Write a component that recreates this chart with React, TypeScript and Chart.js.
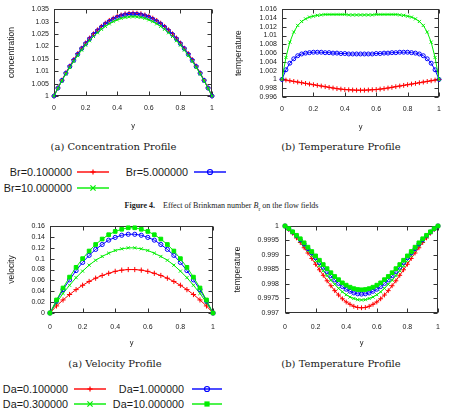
import React, { useEffect, useRef } from 'react';
import { Chart, registerables } from 'chart.js';
Chart.register(...registerables);

// ---------- data ----------
const xTickValues = [0, 0.2, 0.4, 0.6, 0.8, 1];
const xTickLabels = ['0', '0.2', '0.4', '0.6', '0.8', '1'];

const xs40 = [0, 0.025, 0.05, 0.075, 0.1, 0.125, 0.15, 0.175, 0.2, 0.225, 0.25, 0.275, 0.3, 0.325, 0.35, 0.375, 0.4, 0.425, 0.45, 0.475, 0.5,
  0.525, 0.55, 0.575, 0.6, 0.625, 0.65, 0.675, 0.7, 0.725, 0.75, 0.775, 0.8, 0.825, 0.85, 0.875, 0.9, 0.925, 0.95, 0.975, 1];
const xs25 = [0, 0.04, 0.08, 0.12, 0.16, 0.2, 0.24, 0.28, 0.32, 0.36, 0.4, 0.44, 0.48, 0.52, 0.56, 0.6, 0.64, 0.68, 0.72, 0.76, 0.8, 0.84, 0.88, 0.92, 0.96, 1];

// (a) concentration
const concTickValues = [1, 1.005, 1.01, 1.015, 1.02, 1.025, 1.03, 1.035];
const concTickLabels = ['1', '1.005', '1.01', '1.015', '1.02', '1.025', '1.03', '1.035'];
const concBr01 = [1.0000, 1.0033, 1.0064, 1.0093, 1.0121, 1.0147, 1.0171, 1.0193, 1.0214, 1.0234, 1.0251, 1.0267, 1.0281, 1.0294, 1.0305, 1.0314, 1.0322, 1.0327, 1.0332, 1.0334, 1.0335,
  1.0334, 1.0332, 1.0327, 1.0322, 1.0314, 1.0305, 1.0294, 1.0281, 1.0267, 1.0251, 1.0234, 1.0214, 1.0193, 1.0171, 1.0147, 1.0121, 1.0093, 1.0064, 1.0033, 1.0000];
const concBr5 = [1.0000, 1.0032, 1.0063, 1.0092, 1.0119, 1.0144, 1.0168, 1.0191, 1.0211, 1.0230, 1.0248, 1.0263, 1.0277, 1.0290, 1.0300, 1.0309, 1.0317, 1.0323, 1.0327, 1.0329, 1.0330,
  1.0329, 1.0327, 1.0323, 1.0317, 1.0309, 1.0300, 1.0290, 1.0277, 1.0263, 1.0248, 1.0230, 1.0211, 1.0191, 1.0168, 1.0144, 1.0119, 1.0092, 1.0063, 1.0032, 1.0000];
const concBr10 = [1.0000, 1.0031, 1.0061, 1.0089, 1.0115, 1.0140, 1.0163, 1.0185, 1.0205, 1.0223, 1.0240, 1.0255, 1.0269, 1.0281, 1.0291, 1.0300, 1.0307, 1.0313, 1.0317, 1.0319, 1.0320,
  1.0319, 1.0317, 1.0313, 1.0307, 1.0300, 1.0291, 1.0281, 1.0269, 1.0255, 1.0240, 1.0223, 1.0205, 1.0185, 1.0163, 1.0140, 1.0115, 1.0089, 1.0061, 1.0031, 1.0000];

// (b) temperature, Brinkman
const tempBTickValues = [0.996, 0.998, 1, 1.002, 1.004, 1.006, 1.008, 1.01, 1.012, 1.014, 1.016];
const tempBTickLabels = ['0.996', '0.998', '1', '1.002', '1.004', '1.006', '1.008', '1.01', '1.012', '1.014', '1.016'];
const tempBr01 = [1.0000, 0.99985, 0.9997, 0.99955, 0.9994, 0.99925, 0.9991, 0.99895, 0.9988, 0.99865, 0.9985, 0.99835, 0.9982, 0.99805, 0.9979, 0.9978, 0.9977, 0.99765, 0.9976, 0.99755, 0.99755,
  0.99755, 0.9976, 0.99765, 0.9977, 0.9978, 0.9979, 0.99805, 0.9982, 0.99835, 0.9985, 0.99865, 0.9988, 0.99895, 0.9991, 0.99925, 0.9994, 0.99955, 0.9997, 0.99985, 1.0000];
const tempBr5 = [1.0000, 1.0022, 1.0037, 1.0047, 1.0054, 1.0058, 1.0060, 1.0061, 1.0062, 1.0062, 1.0062, 1.0061, 1.0061, 1.0060, 1.0060, 1.0059, 1.0059, 1.0058, 1.0058, 1.0058, 1.0058,
  1.0058, 1.0058, 1.0058, 1.0059, 1.0059, 1.0060, 1.0060, 1.0061, 1.0061, 1.0062, 1.0062, 1.0062, 1.0061, 1.0060, 1.0058, 1.0054, 1.0047, 1.0037, 1.0022, 1.0000];
const tempBr10 = [1.0000, 1.0050, 1.0085, 1.0108, 1.0123, 1.0132, 1.0138, 1.0142, 1.0144, 1.0146, 1.0147, 1.0148, 1.0148, 1.0148, 1.0148, 1.0148, 1.0148, 1.0147, 1.0147, 1.0147, 1.0147,
  1.0147, 1.0147, 1.0147, 1.0148, 1.0148, 1.0148, 1.0148, 1.0148, 1.0148, 1.0147, 1.0146, 1.0144, 1.0142, 1.0138, 1.0132, 1.0123, 1.0108, 1.0085, 1.0050, 1.0000];

// (a) velocity, Darcy
const velTickValues = [0, 0.02, 0.04, 0.06, 0.08, 0.1, 0.12, 0.14, 0.16];
const velTickLabels = ['0', '0.02', '0.04', '0.06', '0.08', '0.1', '0.12', '0.14', '0.16'];
const velDa01 = [0, 0.013, 0.024, 0.034, 0.043, 0.051, 0.058, 0.064, 0.069, 0.073, 0.0766, 0.0788, 0.0799, 0.0799, 0.0788, 0.0766, 0.073, 0.069, 0.064, 0.058, 0.051, 0.043, 0.034, 0.024, 0.013, 0];
const velDa03 = [0, 0.019, 0.036, 0.051, 0.065, 0.077, 0.088, 0.097, 0.104, 0.110, 0.115, 0.118, 0.1198, 0.1198, 0.118, 0.115, 0.110, 0.104, 0.097, 0.088, 0.077, 0.065, 0.051, 0.036, 0.019, 0];
const velDa1 = [0, 0.022, 0.043, 0.061, 0.078, 0.093, 0.106, 0.117, 0.126, 0.134, 0.139, 0.143, 0.1448, 0.1448, 0.143, 0.139, 0.134, 0.126, 0.117, 0.106, 0.093, 0.078, 0.061, 0.043, 0.022, 0];
const velDa10 = [0, 0.024, 0.046, 0.066, 0.084, 0.100, 0.114, 0.126, 0.136, 0.144, 0.150, 0.154, 0.1567, 0.1567, 0.154, 0.150, 0.144, 0.136, 0.126, 0.114, 0.100, 0.084, 0.066, 0.046, 0.024, 0];

// (b) temperature, Darcy
const tempDTickValues = [0.997, 0.9975, 0.998, 0.9985, 0.999, 0.9995, 1];
const tempDTickLabels = ['0.997', '0.9975', '0.998', '0.9985', '0.999', '0.9995', '1'];
const tempDa01 = [1, 0.99988, 0.99975, 0.99959, 0.99943, 0.99925, 0.99907, 0.99888, 0.99868, 0.99849, 0.99830, 0.99811, 0.99794, 0.99777, 0.99762, 0.99749, 0.99738, 0.99730, 0.99723, 0.99719, 0.99718,
  0.99719, 0.99723, 0.99730, 0.99738, 0.99749, 0.99762, 0.99777, 0.99794, 0.99811, 0.99830, 0.99849, 0.99868, 0.99888, 0.99907, 0.99925, 0.99943, 0.99959, 0.99975, 0.99988, 1];
const tempDa03 = [1, 0.99989, 0.99977, 0.99963, 0.99948, 0.99933, 0.99916, 0.99899, 0.99881, 0.99863, 0.99846, 0.99829, 0.99813, 0.99799, 0.99785, 0.99773, 0.99763, 0.99755, 0.99750, 0.99746, 0.99745,
  0.99746, 0.99750, 0.99755, 0.99763, 0.99773, 0.99785, 0.99799, 0.99813, 0.99829, 0.99846, 0.99863, 0.99881, 0.99899, 0.99916, 0.99933, 0.99948, 0.99963, 0.99977, 0.99989, 1];
const tempDa1 = [1, 0.99990, 0.99979, 0.99966, 0.99952, 0.99938, 0.99922, 0.99907, 0.99890, 0.99874, 0.99858, 0.99843, 0.99828, 0.99814, 0.99802, 0.99791, 0.99782, 0.99775, 0.99769, 0.99766, 0.99765,
  0.99766, 0.99769, 0.99775, 0.99782, 0.99791, 0.99802, 0.99814, 0.99828, 0.99843, 0.99858, 0.99874, 0.99890, 0.99907, 0.99922, 0.99938, 0.99952, 0.99966, 0.99979, 0.99990, 1];
const tempDa10 = [1, 0.99991, 0.99980, 0.99968, 0.99956, 0.99942, 0.99927, 0.99912, 0.99897, 0.99882, 0.99867, 0.99853, 0.99839, 0.99826, 0.99815, 0.99804, 0.99796, 0.99789, 0.99784, 0.99781, 0.99780,
  0.99781, 0.99784, 0.99789, 0.99796, 0.99804, 0.99815, 0.99826, 0.99839, 0.99853, 0.99867, 0.99882, 0.99897, 0.99912, 0.99927, 0.99942, 0.99956, 0.99968, 0.99980, 0.99991, 1];

// ---------- styling ----------
const RED = '#ff0000';
const GREEN = '#00ee00';
const BLUE = '#0000ff';
const SANS = '"Liberation Sans", Arial, sans-serif';
const SERIF_CM = '"DejaVu Serif", serif';
const SERIF_T = '"Liberation Serif", "Times New Roman", serif';
const TXT = '#1a1a1a';

type Series = { values: number[]; color: string; style: string; r: number; filled?: boolean };
type PanelProps = {
  left: number; top: number; width: number; height: number;
  yw: number; pt: number; pr: number; xh: number;
  xs: number[];
  yMin: number; yMax: number; yTicks: number[]; yLabels: string[];
  yTitle: string; yTitlePad: number; xTitlePad: number; xTickPad: number; yTickPad: number;
  series: Series[];
};

const frameTicks = {
  id: 'frameTicks',
  beforeDatasetsDraw(chart: any) {
    const { ctx, chartArea: a, scales } = chart;
    const L = 4;
    const l = Math.round(a.left) + 0.5, r = Math.round(a.right) - 0.5;
    const t = Math.round(a.top) + 0.5, b = Math.round(a.bottom) - 0.5;
    ctx.save();
    ctx.strokeStyle = '#333';
    ctx.lineWidth = 1;
    ctx.beginPath();
    scales.x.ticks.forEach((tk: any) => {
      const px = Math.round(scales.x.getPixelForValue(tk.value)) + 0.5;
      ctx.moveTo(px, b); ctx.lineTo(px, b - L);
      ctx.moveTo(px, t); ctx.lineTo(px, t + L);
    });
    scales.y.ticks.forEach((tk: any) => {
      const py = Math.round(scales.y.getPixelForValue(tk.value)) + 0.5;
      ctx.moveTo(l, py); ctx.lineTo(l + L, py);
      ctx.moveTo(r, py); ctx.lineTo(r - L, py);
    });
    ctx.stroke();
    ctx.strokeRect(l, t, r - l, b - t);
    ctx.restore();
  },
};

function Panel(p: PanelProps) {
  const ref = useRef<HTMLCanvasElement | null>(null);
  useEffect(() => {
    if (!ref.current) return;
    const findLabel = (vals: number[], labels: string[], v: number) => {
      const i = vals.findIndex((x) => Math.abs(x - v) < 1e-9);
      return i >= 0 ? labels[i] : '';
    };
    const chart = new Chart(ref.current, {
      type: 'line',
      data: {
        datasets: p.series.map((s, i) => ({
          data: p.xs.map((x, j) => ({ x, y: s.values[j] })),
          borderColor: s.color,
          backgroundColor: s.filled ? s.color : 'rgba(0,0,0,0)',
          pointStyle: s.style as any,
          pointRadius: s.r,
          pointBorderWidth: 1,
          pointBorderColor: s.color,
          pointBackgroundColor: s.filled ? s.color : 'rgba(0,0,0,0)',
          borderWidth: 1,
          fill: false,
          tension: 0,
          clip: false as any,
          order: -i,
        })),
      },
      options: {
        animation: false,
        responsive: false,
        events: [],
        layout: { autoPadding: false, padding: { left: 0, top: p.pt, right: p.pr, bottom: 0 } },
        plugins: { legend: { display: false }, tooltip: { enabled: false } },
        scales: {
          x: {
            type: 'linear', min: 0, max: 1,
            afterBuildTicks: (s: any) => { s.ticks = xTickValues.map((v) => ({ value: v })); },
            afterFit: (s: any) => { s.height = p.xh; },
            ticks: {
              callback: (v: any) => findLabel(xTickValues, xTickLabels, Number(v)),
              padding: p.xTickPad, maxRotation: 0, autoSkip: false,
              font: { family: SANS, size: 7 }, color: TXT,
            },
            grid: { display: false, drawTicks: false },
            border: { display: false },
            title: { display: true, text: 'y', font: { family: SANS, size: 7.5 }, color: TXT, padding: { top: 0, bottom: p.xTitlePad } },
          },
          y: {
            type: 'linear', min: p.yMin, max: p.yMax,
            afterBuildTicks: (s: any) => { s.ticks = p.yTicks.map((v) => ({ value: v })); },
            afterFit: (s: any) => { s.width = p.yw; },
            ticks: {
              callback: (v: any) => findLabel(p.yTicks, p.yLabels, Number(v)),
              padding: p.yTickPad, autoSkip: false,
              font: { family: SANS, size: 7 }, color: TXT,
            },
            grid: { display: false, drawTicks: false },
            border: { display: false },
            title: { display: true, text: p.yTitle, font: { family: SANS, size: 8.5 }, color: TXT, padding: { top: p.yTitlePad, bottom: 0 } },
          },
        },
      } as any,
      plugins: [frameTicks],
    });
    return () => chart.destroy();
  }, []);
  return (
    <canvas ref={ref} width={p.width} height={p.height}
      style={{ position: 'absolute', left: p.left, top: p.top, width: p.width, height: p.height }} />
  );
}

function T(props: { x: number; y: number; a?: 'l' | 'c' | 'r'; s: number; f: string; children: React.ReactNode }) {
  const a = props.a || 'c';
  const tx = a === 'c' ? '-50%' : a === 'r' ? '-100%' : '0';
  return (
    <div style={{
      position: 'absolute', left: props.x, top: props.y, transform: `translate(${tx},-50%)`,
      fontSize: props.s, fontFamily: props.f, whiteSpace: 'nowrap', lineHeight: 1, color: TXT,
    }}>{props.children}</div>
  );
}

function KeySample(props: { x1: number; x2: number; y: number; color: string; marker: string }) {
  const { x1, x2, y, color, marker } = props;
  const cx = (x1 + x2) / 2;
  const m = 2.6;
  let mk: React.ReactNode = null;
  if (marker === 'plus') mk = <g stroke={color} strokeWidth={1.2}><line x1={cx - m} y1={y} x2={cx + m} y2={y} /><line x1={cx} y1={y - m} x2={cx} y2={y + m} /></g>;
  if (marker === 'x') mk = <g stroke={color} strokeWidth={1.2}><line x1={cx - m} y1={y - m} x2={cx + m} y2={y + m} /><line x1={cx - m} y1={y + m} x2={cx + m} y2={y - m} /></g>;
  if (marker === 'circle') mk = <circle cx={cx} cy={y} r={2.5} fill="none" stroke={color} strokeWidth={1.2} />;
  if (marker === 'square') mk = <rect x={cx - 2.6} y={y - 2.6} width={5.2} height={5.2} fill={color} />;
  return <g><line x1={x1} y1={y} x2={x2} y2={y} stroke={color} strokeWidth={1.4} />{mk}</g>;
}

export default function App() {
  return (
    <div style={{ position: 'absolute', left: 0, top: 0, width: 450, height: 411, background: '#fff', overflow: 'hidden' }}>
      <Panel left={0} top={0} width={225} height={137} yw={54} pt={8} pr={13} xh={41}
        xs={xs40} yMin={1} yMax={1.035} yTicks={concTickValues} yLabels={concTickLabels}
        yTitle="concentration" yTitlePad={7} xTitlePad={6.5} xTickPad={7.8} yTickPad={5}
        series={[
          { values: concBr01, color: RED, style: 'cross', r: 2.4 },
          { values: concBr5, color: BLUE, style: 'circle', r: 2 },
          { values: concBr10, color: GREEN, style: 'crossRot', r: 2.2 },
        ]} />
      <Panel left={225} top={0} width={225} height={137} yw={57} pt={7} pr={11} xh={40}
        xs={xs40} yMin={0.996} yMax={1.016} yTicks={tempBTickValues} yLabels={tempBTickLabels}
        yTitle="temperature" yTitlePad={8.9} xTitlePad={5.5} xTickPad={7.8} yTickPad={5}
        series={[
          { values: tempBr01, color: RED, style: 'cross', r: 2.4 },
          { values: tempBr5, color: BLUE, style: 'circle', r: 2 },
          { values: tempBr10, color: GREEN, style: 'crossRot', r: 2.2 },
        ]} />
      <Panel left={0} top={212} width={225} height={140} yw={50} pt={14} pr={12} xh={39}
        xs={xs25} yMin={0} yMax={0.16} yTicks={velTickValues} yLabels={velTickLabels}
        yTitle="velocity" yTitlePad={7} xTitlePad={4.5} xTickPad={9.8} yTickPad={5}
        series={[
          { values: velDa01, color: RED, style: 'cross', r: 2.6 },
          { values: velDa03, color: GREEN, style: 'crossRot', r: 2.2 },
          { values: velDa1, color: BLUE, style: 'circle', r: 2.1 },
          { values: velDa10, color: GREEN, style: 'rect', r: 2.6, filled: true },
        ]} />
      <Panel left={225} top={212} width={225} height={140} yw={60} pt={14} pr={12} xh={39}
        xs={xs40} yMin={0.997} yMax={1} yTicks={tempDTickValues} yLabels={tempDTickLabels}
        yTitle="temperature" yTitlePad={8} xTitlePad={4.5} xTickPad={9.8} yTickPad={6}
        series={[
          { values: tempDa01, color: RED, style: 'cross', r: 2.4 },
          { values: tempDa03, color: GREEN, style: 'crossRot', r: 2.2 },
          { values: tempDa1, color: BLUE, style: 'circle', r: 2 },
          { values: tempDa10, color: GREEN, style: 'rect', r: 2.6, filled: true },
        ]} />

      <T x={113.5} y={147} s={10} f={SERIF_CM}>(a) Concentration Profile</T>
      <T x={341} y={147} s={10} f={SERIF_CM}>(b) Temperature Profile</T>
      <T x={115} y={364} s={10} f={SERIF_CM}>(a) Velocity Profile</T>
      <T x={341} y={364} s={10} f={SERIF_CM}>(b) Temperature Profile</T>

      <T x={72} y={172} a="r" s={10.8} f={SANS}>Br=0.100000</T>
      <T x={188} y={172} a="r" s={10.8} f={SANS}>Br=5.000000</T>
      <T x={72} y={188} a="r" s={10.8} f={SANS}>Br=10.000000</T>

      <T x={221.5} y={207} s={8} f={SERIF_T}>
        <b>Figure 4.</b><span style={{ marginLeft: 8 }}>Effect of Brinkman number <i>B</i><sub style={{ fontSize: 5.5 }}>r</sub> on the flow fields</span>
      </T>

      <T x={68} y={389} a="r" s={10.8} f={SANS}>Da=0.100000</T>
      <T x={184} y={389} a="r" s={10.8} f={SANS}>Da=1.000000</T>
      <T x={68} y={404} a="r" s={10.8} f={SANS}>Da=0.300000</T>
      <T x={184} y={404} a="r" s={10.8} f={SANS}>Da=10.000000</T>

      <svg width={450} height={411} style={{ position: 'absolute', left: 0, top: 0, pointerEvents: 'none' }}>
        <KeySample x1={77} x2={109} y={172} color={RED} marker="plus" />
        <KeySample x1={194} x2={226} y={172} color={BLUE} marker="circle" />
        <KeySample x1={77} x2={109} y={188} color={GREEN} marker="x" />
        <KeySample x1={74} x2={106} y={389} color={RED} marker="plus" />
        <KeySample x1={192} x2={222} y={389} color={BLUE} marker="circle" />
        <KeySample x1={74} x2={106} y={404} color={GREEN} marker="x" />
        <KeySample x1={192} x2={222} y={404} color={GREEN} marker="square" />
      </svg>
    </div>
  );
}
